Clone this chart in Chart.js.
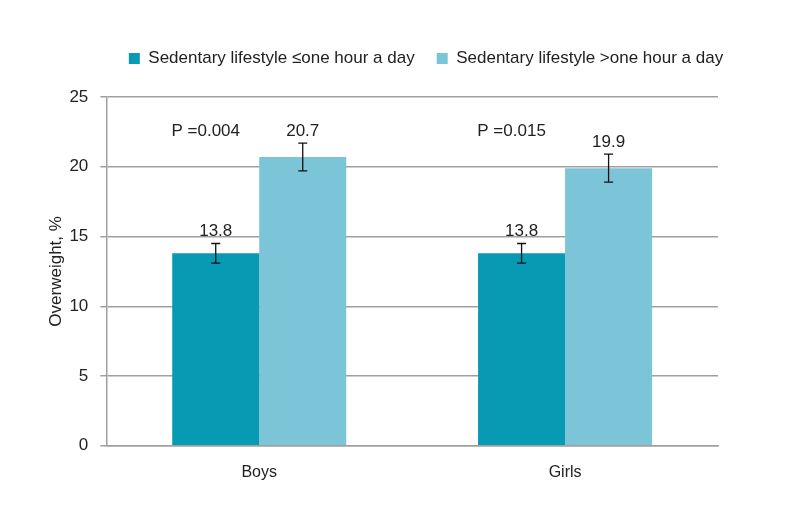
<!DOCTYPE html>
<html><head><meta charset="utf-8">
<script src="https://cdn.jsdelivr.net/npm/chart.js@4/dist/chart.umd.min.js"></script>
<style>html,body{margin:0;padding:0;background:#fff;}#wrap{width:785px;height:523px;}</style>
</head><body><div id="wrap"><canvas id="c"></canvas></div>
<script>
const categories = ["Boys", "Girls"];
const seriesNames = ["Sedentary lifestyle \u2264one hour a day", "Sedentary lifestyle >one hour a day"];
const lowValues = [13.8, 13.8];
const highValues = [20.7, 19.9];
const lowErrors = [0.7, 0.7];
const highErrors = [1.0, 1.0];
const pLabels = ["P =0.004", "P =0.015"];
const yTicks = [0, 5, 10, 15, 20, 25];

const FONT = "'Liberation Sans Narrow', 'Liberation Sans', Arial, sans-serif";
const errs = [lowErrors, highErrors];

const legendMargin = {
  id: 'legendMargin',
  beforeInit(chart) {
    const lg = chart.legend;
    const fit = lg.fit;
    lg.fit = function () { fit.bind(lg)(); this.height += 20; };
    const draw = lg.draw;
    lg.draw = function () {
      const ctx = chart.ctx;
      ctx.save(); ctx.translate(44, 0); draw.bind(lg)(); ctx.restore();
    };
  }
};

const annot = {
  id: 'annot',
  afterDatasetsDraw(chart) {
    const ctx = chart.ctx;
    const y = chart.scales.y;
    ctx.save();
    ctx.font = "17px " + FONT;
    ctx.fillStyle = "#222";
    ctx.textAlign = "center";
    ctx.textBaseline = "alphabetic";
    chart.data.datasets.forEach((ds, di) => {
      const meta = chart.getDatasetMeta(di);
      meta.data.forEach((bar, i) => {
        const v = ds.data[i];
        const e = errs[di][i];
        const yt = y.getPixelForValue(v + e);
        const yb = y.getPixelForValue(v - e);
        ctx.strokeStyle = "#111";
        ctx.lineWidth = 1.3;
        ctx.beginPath();
        ctx.moveTo(bar.x, yt); ctx.lineTo(bar.x, yb);
        ctx.moveTo(bar.x - 4.5, yt); ctx.lineTo(bar.x + 4.5, yt);
        ctx.moveTo(bar.x - 4.5, yb); ctx.lineTo(bar.x + 4.5, yb);
        ctx.stroke();
        ctx.fillText(v.toFixed(1), bar.x, yt - 7);
      });
    });
    const m0 = chart.getDatasetMeta(0);
    m0.data.forEach((bar, i) => {
      ctx.fillText(pLabels[i], bar.x - 10, y.getPixelForValue(25) + 39);
    });
    ctx.restore();
  }
};

new Chart(document.getElementById('c'), {
  type: 'bar',
  data: {
    labels: categories,
    datasets: [
      { label: seriesNames[0], data: lowValues, backgroundColor: '#0899b3', borderWidth: 0 },
      { label: seriesNames[1], data: highValues, backgroundColor: '#7cc5d8', borderWidth: 0 }
    ]
  },
  options: {
    responsive: true,
    maintainAspectRatio: false,
    animation: false,
    datasets: { bar: { barPercentage: 1.0, categoryPercentage: 0.569 } },
    layout: { padding: { left: 46, right: 67, top: 28, bottom: 32 } },
    plugins: {
      legend: {
        position: 'top',
        labels: { boxWidth: 11, boxHeight: 11, font: { family: FONT, size: 17 }, color: '#222', padding: 22 }
      },
      tooltip: { enabled: false }
    },
    scales: {
      x: {
        grid: { display: false },
        border: { color: '#a0a0a0', width: 1.5 },
        ticks: { font: { family: FONT, size: 16 }, color: '#222', padding: 9 }
      },
      y: {
        min: 0, max: 25,
        afterBuildTicks(s) { s.ticks = yTicks.map(v => ({ value: v })); },
        grid: { color: '#a0a0a0', lineWidth: 1.5, tickLength: 6 },
        border: { color: '#a0a0a0', width: 1.5 },
        ticks: { font: { family: FONT, size: 17 }, color: '#222', padding: 12 },
        title: { display: true, text: 'Overweight, %', font: { family: FONT, size: 17 }, color: '#222', padding: { top: 0, bottom: -9 } }
      }
    }
  },
  plugins: [annot, legendMargin]
});
</script></body></html>
